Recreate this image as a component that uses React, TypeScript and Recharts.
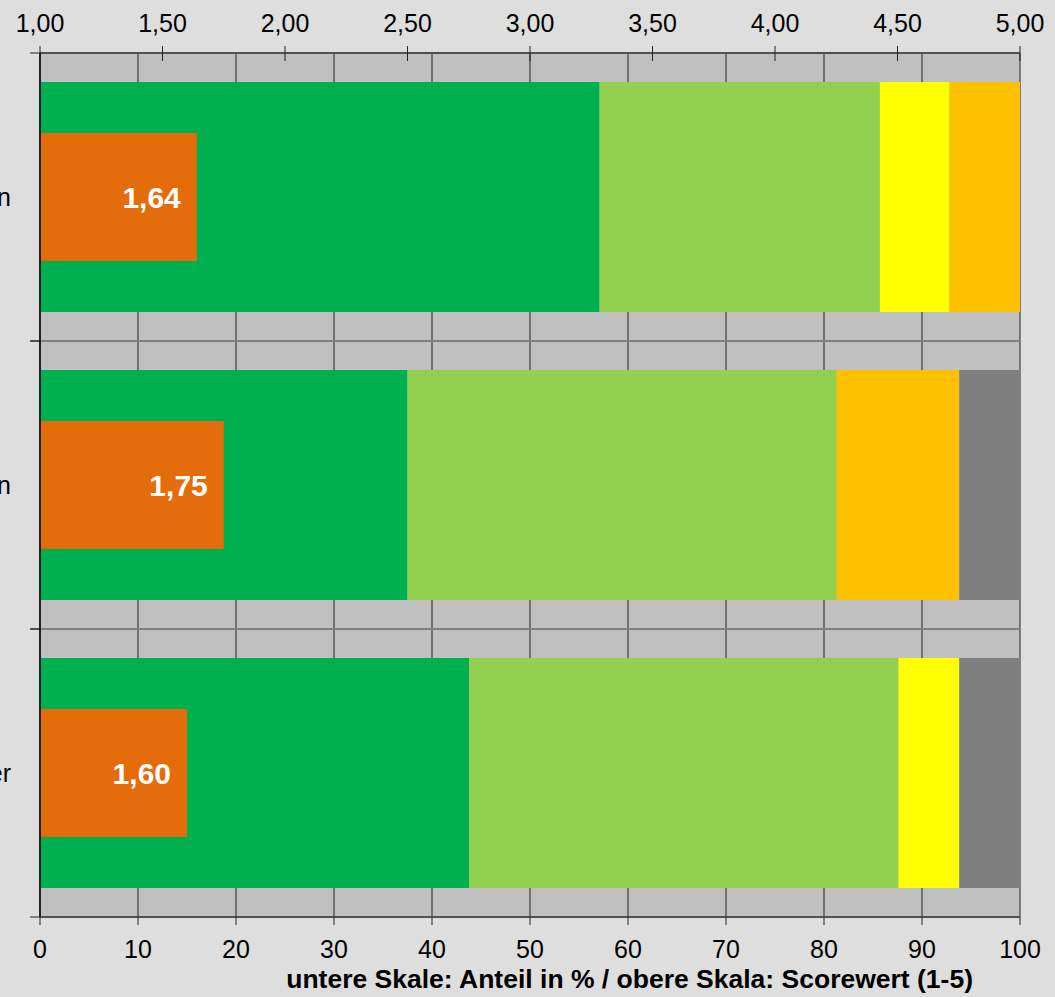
import { BarChart, Bar, XAxis, YAxis, CartesianGrid, LabelList, Label } from "recharts";

// groups (labels are cut off at the left edge in the original)
const categories = ["Eltern", "Schülerinnen und Schülern", "Lehrer"];

// share in % per answer level
const level1 = [57.1, 37.5, 43.8];
const level2 = [28.6, 43.8, 43.8];
const level3 = [7.1, 0, 6.2];
const level4 = [7.2, 12.5, 0];
const noAnswer = [0, 6.2, 6.2];

// mean score (1-5)
const scores = [1.64, 1.75, 1.6];

const pctTicks = [0, 10, 20, 30, 40, 50, 60, 70, 80, 90, 100];
const scoreTicks = [1, 1.5, 2, 2.5, 3, 3.5, 4, 4.5, 5];

const data = categories.map((name, i) => ({
  name,
  l1: level1[i],
  l2: level2[i],
  l3: level3[i],
  l4: level4[i],
  na: noAnswer[i],
  score: scores[i],
}));

const fmt = (v: number) => v.toFixed(2).replace(".", ",");
const font = "Arial, 'Liberation Sans', sans-serif";

// top axis ticks cross the axis line like in the original
const TopTick = (props: any) => {
  const { x, y, payload } = props;
  return (
    <g>
      <line x1={x} x2={x} y1={y + 14} y2={y + 29} stroke="#222" />
      <text x={x} y={y} textAnchor="middle" fontSize={25} fill="#000" fontFamily={font}>
        {fmt(payload.value)}
      </text>
    </g>
  );
};

// single-line category label + tick marks on the band borders (Excel style)
const CatTick = (props: any) => {
  const { x, y, payload, height, visibleTicksCount } = props;
  const band = height / visibleTicksCount;
  return (
    <g>
      <line x1={x + 19} x2={x + 29} y1={y - band / 2} y2={y - band / 2} stroke="#222" />
      <line x1={x + 19} x2={x + 29} y1={y + band / 2} y2={y + band / 2} stroke="#222" />
      <text x={x} y={y} dy={9} textAnchor="end" fontSize={25} fill="#000" fontFamily={font}>
        {payload.value}
      </text>
    </g>
  );
};

// separator lines sit on the band borders
const bandLines = ({ offset }: any) =>
  [0, 1, 2, 3].map((t) => offset.top + (offset.height * t) / categories.length);

const App = () => {
  return (
    <div
      style={{
        position: "absolute",
        left: 0,
        top: 0,
        width: 1055,
        height: 997,
        background: "#dedede",
        fontFamily: font,
      }}
    >
      <BarChart
        width={1055}
        height={997}
        data={data}
        layout="vertical"
        margin={{ top: 0, right: 35, bottom: 0, left: 0 }}
      >
        <CartesianGrid
          xAxisId="pct"
          yAxisId="cat"
          horizontal={false}
          fill="#c0c0c0"
          stroke="#222"
          strokeOpacity={1}
        />
        <CartesianGrid
          xAxisId="pct"
          yAxisId="cat"
          vertical={false}
          horizontalCoordinatesGenerator={bandLines}
          stroke="#808080"
          strokeWidth={2}
        />
        <XAxis
          xAxisId="pct"
          type="number"
          domain={[0, 100]}
          ticks={pctTicks}
          height={80}
          tickSize={8}
          tickMargin={15}
          tick={{ fontSize: 25, fill: "#000", fontFamily: font }}
          axisLine={{ stroke: "#222" }}
          tickLine={{ stroke: "#222" }}
        >
          <Label
            content={(p: any) => {
              const vb = p.viewBox;
              return (
                <text
                  x={vb.x + vb.width - 47}
                  y={vb.y + vb.height - 9}
                  textAnchor="end"
                  fontWeight="bold"
                  fontSize={26.5}
                  fill="#000"
                  fontFamily={font}
                >
                  untere Skale: Anteil in % / obere Skala: Scorewert (1-5)
                </text>
              );
            }}
          />
        </XAxis>
        <XAxis
          xAxisId="score"
          orientation="top"
          type="number"
          domain={[1, 5]}
          ticks={scoreTicks}
          height={53}
          tickSize={7}
          tickMargin={14}
          tickLine={false}
          tick={<TopTick />}
          axisLine={{ stroke: "#222" }}
        />
        <YAxis
          yAxisId="cat"
          type="category"
          dataKey="name"
          width={40}
          tickSize={0}
          tickMargin={29}
          axisLine={{ stroke: "#222", strokeWidth: 2 }}
          tickLine={false}
          tick={<CatTick />}
        />
        <YAxis yAxisId="cat2" type="category" dataKey="name" hide />

        <Bar xAxisId="pct" yAxisId="cat" dataKey="l1" stackId="a" fill="#00b050" barSize={230} isAnimationActive={false} />
        <Bar xAxisId="pct" yAxisId="cat" dataKey="l2" stackId="a" fill="#92d050" barSize={230} isAnimationActive={false} />
        <Bar xAxisId="pct" yAxisId="cat" dataKey="l3" stackId="a" fill="#ffff00" barSize={230} isAnimationActive={false} />
        <Bar xAxisId="pct" yAxisId="cat" dataKey="l4" stackId="a" fill="#ffc000" barSize={230} isAnimationActive={false} />
        <Bar xAxisId="pct" yAxisId="cat" dataKey="na" stackId="a" fill="#7f7f7f" barSize={230} isAnimationActive={false} />

        <Bar xAxisId="score" yAxisId="cat2" dataKey="score" fill="#e46c0a" barSize={128} isAnimationActive={false}>
          <LabelList
            dataKey="score"
            position="insideRight"
            offset={16}
            formatter={(v: any) => fmt(Number(v))}
            fill="#fff"
            fontSize={30}
            fontWeight="bold"
            fontFamily={font}
          />
        </Bar>
      </BarChart>
    </div>
  );
};

export default App;
